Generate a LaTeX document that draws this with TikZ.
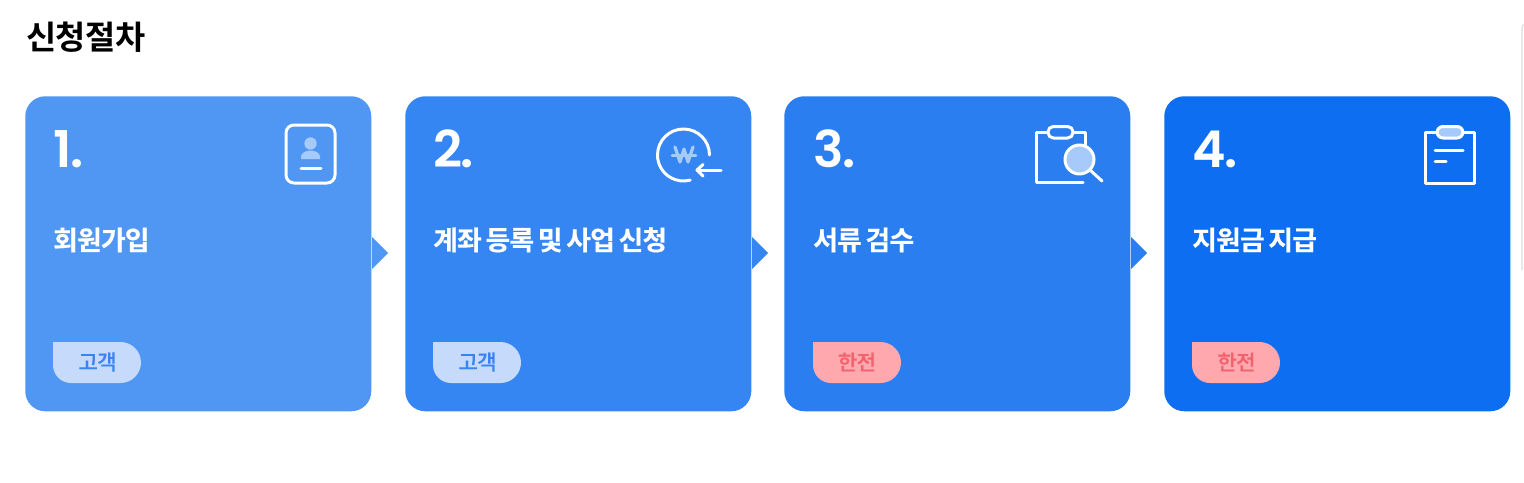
\documentclass[tikz,border=0pt]{standalone}
\usepackage{fontspec}
\newfontfamily\krb[LetterSpace=-3,WordSpace=0.72,FakeBold=0.4]{Noto Sans CJK KR Bold}
\newfontfamily\krt[LetterSpace=-1.5]{Noto Sans CJK KR Bold}
\newfontfamily\krm[LetterSpace=-3,FakeBold=0.2]{Noto Sans CJK KR Medium}
\newfontfamily\numf[LetterSpace=-3]{Poppins SemiBold}
\definecolor{cardA}{HTML}{5096F3}
\definecolor{cardB}{HTML}{3585F2}
\definecolor{cardC}{HTML}{2A7EF0}
\definecolor{cardD}{HTML}{0D6EF1}
\definecolor{tagB}{HTML}{C6DBFB}
\definecolor{tagBt}{HTML}{3B82F2}
\definecolor{tagR}{HTML}{FFA8AE}
\definecolor{tagRt}{HTML}{F2616E}
\definecolor{iconfill}{HTML}{A6CAFA}
\definecolor{edgeline}{HTML}{DDDDDD}
\tikzset{
 x=0.75pt,y=-0.75pt,
 card/.style={fill=#1,draw=none,rounded corners=15pt,minimum width=259.5pt,minimum height=236.25pt,anchor=north west,inner sep=0pt},
 numtxt/.style={text=white,anchor=base west,inner sep=0pt,font=\numf\fontsize{38pt}{40pt}\selectfont},
 steptxt/.style={text=white,anchor=base west,inner sep=0pt,font=\krb\fontsize{20.1pt}{22pt}\selectfont},
 tagtxt/.style={anchor=center,inner sep=0pt,font=\krm\fontsize{15.8pt}{18pt}\selectfont},
 titletxt/.style={text=black,anchor=base west,inner sep=0pt,font=\krt\fontsize{24.6pt}{28pt}\selectfont},
 ico/.style={draw=white,line width=2.25pt,line cap=round,line join=round,fill=none},
}
\begin{document}
\begin{tikzpicture}
\useasboundingbox (0,0) rectangle (1524,482);
\fill[white] (0,0) rectangle (1524,482);
\draw[edgeline,line width=0.9pt] (1529,25) -- (1523,25) -- (1522,28) -- (1522,270);

\node[titletxt] (title) at (26,49) {신청절차};

\node[card=cardA] (c1) at (25,96) {};
\node[card=cardB] (c2) at (405,96) {};
\node[card=cardC] (c3) at (784,96) {};
\node[card=cardD] (c4) at (1164,96) {};

\fill[cardA] (372,237) -- (388,253) -- (372,269) -- cycle;
\fill[cardB] (752,237) -- (768,253) -- (752,269) -- cycle;
\fill[cardC] (1131,237) -- (1147,253) -- (1131,269) -- cycle;

\node[numtxt] (n1) at (53,167) {1.};
\node[numtxt] (n2) at (433,167) {2.};
\node[numtxt] (n3) at (813,167) {3.};
\node[numtxt] (n4) at (1192,167) {4.};

\node[steptxt] (s1) at (53,250) {회원가입};
\node[steptxt] (s2) at (433,250) {계좌 등록 및 사업 신청};
\node[steptxt] (s3) at (813,250) {서류 검수};
\node[steptxt] (s4) at (1192,250) {지원금 지급};

% badges
\foreach \bx/\bc in {53/tagB,433/tagB,813/tagR,1192/tagR}{
  \fill[\bc] (\bx,342) -- (\bx+67.5,342) arc[start angle=-90,end angle=90,radius=20.5] -- (\bx+18,383) arc[start angle=90,end angle=180,radius=18] -- cycle;
}
\node[tagtxt,text=tagBt] (t1) at (97.5,362) {고객};
\node[tagtxt,text=tagBt] (t2) at (477.5,362) {고객};
\node[tagtxt,text=tagRt] (t3) at (857,362) {한전};
\node[tagtxt,text=tagRt] (t4) at (1236.5,362) {한전};

% icon 1: person card
\draw[ico,rounded corners=6pt] (286,125) rectangle (335,183);
\fill[iconfill] (310.5,143.5) circle (6.2);
\fill[iconfill] (301,159) -- (301,156) .. controls (302,152) and (307,150.5) .. (310.5,150.5) .. controls (314,150.5) and (319,152) .. (320,156) -- (320,159) -- cycle;
\draw[ico] (301,168.5) -- (321,168.5);

% icon 2: won circle
\draw[ico] (709.5,155) arc[start angle=0,end angle=-285,radius=26];
\draw[ico] (721,170) -- (697,170);
\draw[ico] (703,164.5) -- (697,170) -- (703,176);
\draw[iconfill,line width=2.4pt,line cap=round,line join=round] (675,147) -- (680,162) -- (684,149) -- (688,162) -- (693,147);
\draw[iconfill,line width=2.2pt,line cap=round] (672,155.5) -- (696,155.5);

% icon 3: clipboard + magnifier
\draw[ico] (1047,132) -- (1036,132) -- (1036,182) -- (1083,182);
\draw[ico] (1073,132) -- (1085,132) -- (1085,145);
\draw[ico,rounded corners=4pt] (1048,126.5) rectangle (1073,138);
\draw[ico,fill=iconfill] (1079.5,159.5) circle (14.5);
\draw[ico] (1090,170) -- (1102,181);

% icon 4: clipboard
\draw[ico] (1436,132) -- (1425,132) -- (1425,183) -- (1474,183) -- (1474,132) -- (1463,132);
\draw[ico,rounded corners=4.5pt,fill=iconfill] (1437,126.5) rectangle (1463,138);
\draw[ico] (1435,150) -- (1463,150);
\draw[ico] (1435,161) -- (1446,161);
\end{tikzpicture}
\end{document}
